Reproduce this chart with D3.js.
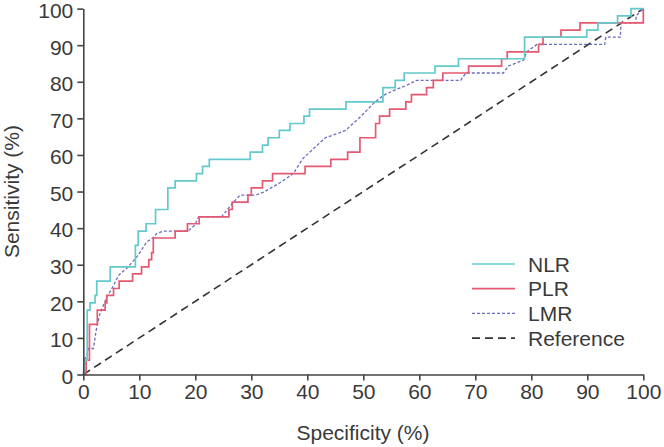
<!DOCTYPE html>
<html>
<head>
<meta charset="utf-8">
<script src="https://cdn.jsdelivr.net/npm/d3@7"></script>
<style>
  html, body { margin: 0; padding: 0; background: #fff; }
  svg { display: block; }
  text { font-family: "Liberation Sans", Arial, Helvetica, sans-serif; fill: #3a3a3a; }
</style>
</head>
<body>
<svg id="chart" width="664" height="447"></svg>
<script>
// ---------- data ----------
const xTicks = [0, 10, 20, 30, 40, 50, 60, 70, 80, 90, 100];
const yTicks = [0, 10, 20, 30, 40, 50, 60, 70, 80, 90, 100];

// NLR step curve: [1 - specificity (%), sensitivity (%)] at each rise
const nlrX = [0, 0.1, 0.7, 1.2, 2.1, 2.4, 4.8, 9.3, 9.8, 11.2, 12.9, 15.1, 16.4, 20.2, 21.3, 22.5, 29.8, 32.0, 33.0, 35.0, 36.9, 39.4, 40.4, 46.9, 53.5, 55.7, 57.3, 62.8, 67.0, 78.8, 89.9, 91.9, 95.4, 97.8, 100];
const nlrY = [0, 3.9, 17.6, 19.6, 21.6, 25.5, 29.4, 35.3, 39.2, 41.2, 45.1, 51.0, 52.9, 54.9, 56.9, 58.8, 60.8, 62.7, 64.7, 66.7, 68.6, 70.6, 72.5, 74.5, 78.4, 80.4, 82.4, 84.3, 86.3, 92.2, 94.1, 96.1, 98.0, 100, 100];

// PLR step curve
const plrX = [0, 0.5, 1.1, 2.5, 3.9, 4.2, 5.4, 6.4, 8.8, 10.4, 11.7, 12.2, 12.5, 16.4, 18.6, 20.7, 26.0, 26.6, 29.4, 30.0, 32.0, 33.8, 39.6, 44.2, 47.2, 49.4, 52.2, 52.9, 54.7, 57.6, 58.6, 61.3, 62.5, 64.2, 68.8, 74.7, 75.7, 81.3, 82.1, 85.3, 88.7, 100];
const plrY = [0, 3.9, 13.7, 17.6, 19.6, 21.6, 23.5, 25.5, 27.5, 29.4, 31.4, 33.3, 37.3, 39.2, 41.2, 43.1, 45.1, 47.1, 49.0, 51.0, 52.9, 54.9, 56.9, 58.8, 60.8, 64.7, 68.6, 70.6, 72.5, 74.5, 76.5, 78.4, 80.4, 82.4, 84.3, 86.3, 88.2, 90.2, 92.2, 94.1, 96.1, 100];

// LMR curve (smoothed, drawn as polyline)
const lmrX = [0, 0.1, 0.6, 0.9, 1.8, 2.4, 3.0, 4.2, 5.3, 6.3, 8.0, 9.5, 10.4, 11.3, 12.5, 13.1, 14.3, 18.7, 19.9, 20.6, 24.7, 25.7, 26.8, 28.0, 30.8, 32.3, 35.1, 37.5, 39.2, 43.2, 45.3, 46.8, 49.4, 51.9, 53.6, 55.4, 57.7, 59.5, 67.4, 68.3, 75.0, 75.9, 78.6, 79.2, 81.0, 93.1, 93.3, 95.9, 96.0, 98.7, 98.7, 100];
const lmrY = [0, 3.9, 5.0, 7.1, 7.1, 13.0, 16.7, 21.2, 24.0, 27.1, 29.4, 32.0, 34.0, 36.2, 37.4, 38.5, 39.2, 39.2, 40.8, 43.1, 43.1, 45.0, 47.1, 49.0, 49.0, 49.9, 52.4, 54.9, 59.0, 64.7, 65.8, 66.7, 70.3, 74.2, 76.3, 77.6, 79.0, 80.4, 80.4, 82.4, 82.4, 84.3, 85.9, 88.2, 90.2, 90.2, 92.2, 92.2, 96.1, 96.1, 98.0, 100];

// Reference diagonal
const refX = [0, 100];
const refY = [0, 100];

const seriesNames = ["NLR", "PLR", "LMR", "Reference"];

// ---------- layout ----------
const svg = d3.select("#chart");
const x = d3.scaleLinear().domain([0, 100]).range([83.3, 643.3]);
const y = d3.scaleLinear().domain([0, 100]).range([374.5, 8.6]);

const axisColor = "#454545";
const styles = {
  NLR: { color: "#63c9cd", width: 1.7, dash: null },
  PLR: { color: "#e45a72", width: 1.7, dash: null },
  LMR: { color: "#6a6cc0", width: 1.3, dash: "3,2" },
  Reference: { color: "#333333", width: 1.6, dash: "8,5" }
};

function zip(xs, ys) { return xs.map((v, i) => [v, ys[i]]); }

const stepLine = d3.line().x(d => x(d[0])).y(d => y(d[1])).curve(d3.curveStepAfter);
const polyLine = d3.line().x(d => x(d[0])).y(d => y(d[1]));

// reference
svg.append("path")
  .attr("d", polyLine(zip(refX, refY)))
  .attr("fill", "none")
  .attr("stroke", styles.Reference.color)
  .attr("stroke-width", styles.Reference.width)
  .attr("stroke-dasharray", styles.Reference.dash);

// LMR
svg.append("path")
  .attr("d", polyLine(zip(lmrX, lmrY)))
  .attr("fill", "none")
  .attr("stroke", styles.LMR.color)
  .attr("stroke-width", styles.LMR.width)
  .attr("stroke-dasharray", styles.LMR.dash);

// PLR
svg.append("path")
  .attr("d", stepLine(zip(plrX, plrY)))
  .attr("fill", "none")
  .attr("stroke", styles.PLR.color)
  .attr("stroke-width", styles.PLR.width);

// NLR
svg.append("path")
  .attr("d", stepLine(zip(nlrX, nlrY)))
  .attr("fill", "none")
  .attr("stroke", styles.NLR.color)
  .attr("stroke-width", styles.NLR.width);

// axes
const fontSize = 21;
const xAxis = svg.append("g")
  .attr("transform", `translate(0,${y(0)})`)
  .call(d3.axisBottom(x).tickValues(xTicks).tickSize(6).tickSizeOuter(0).tickPadding(4));
const yAxis = svg.append("g")
  .attr("transform", `translate(${x(0)},0)`)
  .call(d3.axisLeft(y).tickValues(yTicks).tickSize(6).tickSizeOuter(0).tickPadding(4));

[xAxis, yAxis].forEach(g => {
  g.select(".domain").attr("stroke", axisColor).attr("stroke-width", 1.6);
  g.selectAll(".tick line").attr("stroke", axisColor).attr("stroke-width", 1.6);
  g.selectAll(".tick text")
    .attr("font-size", fontSize)
    .attr("font-family", "Liberation Sans, Arial, sans-serif")
    .attr("fill", "#3a3a3a");
});
yAxis.selectAll(".tick text").attr("dy", "0.42em");

// axis titles
svg.append("text")
  .attr("x", 363).attr("y", 440)
  .attr("text-anchor", "middle")
  .attr("font-size", 21)
  .text("Specificity (%)");

svg.append("text")
  .attr("transform", `translate(19,${(y(0) + y(100)) / 2}) rotate(-90)`)
  .attr("text-anchor", "middle")
  .attr("font-size", 21)
  .text("Sensitivity (%)");

// legend
const legend = svg.append("g").attr("transform", "translate(472,264)");
seriesNames.forEach((name, i) => {
  const s = styles[name];
  const row = legend.append("g").attr("transform", `translate(0,${i * 24.7})`);
  row.append("line")
    .attr("x1", 0).attr("x2", 43).attr("y1", 0).attr("y2", 0)
    .attr("stroke", s.color)
    .attr("stroke-width", s.width)
    .attr("stroke-dasharray", s.dash);
  row.append("text")
    .attr("x", 56).attr("y", 0).attr("dy", "0.36em")
    .attr("font-size", 21)
    .text(name);
});
</script>
</body>
</html>
